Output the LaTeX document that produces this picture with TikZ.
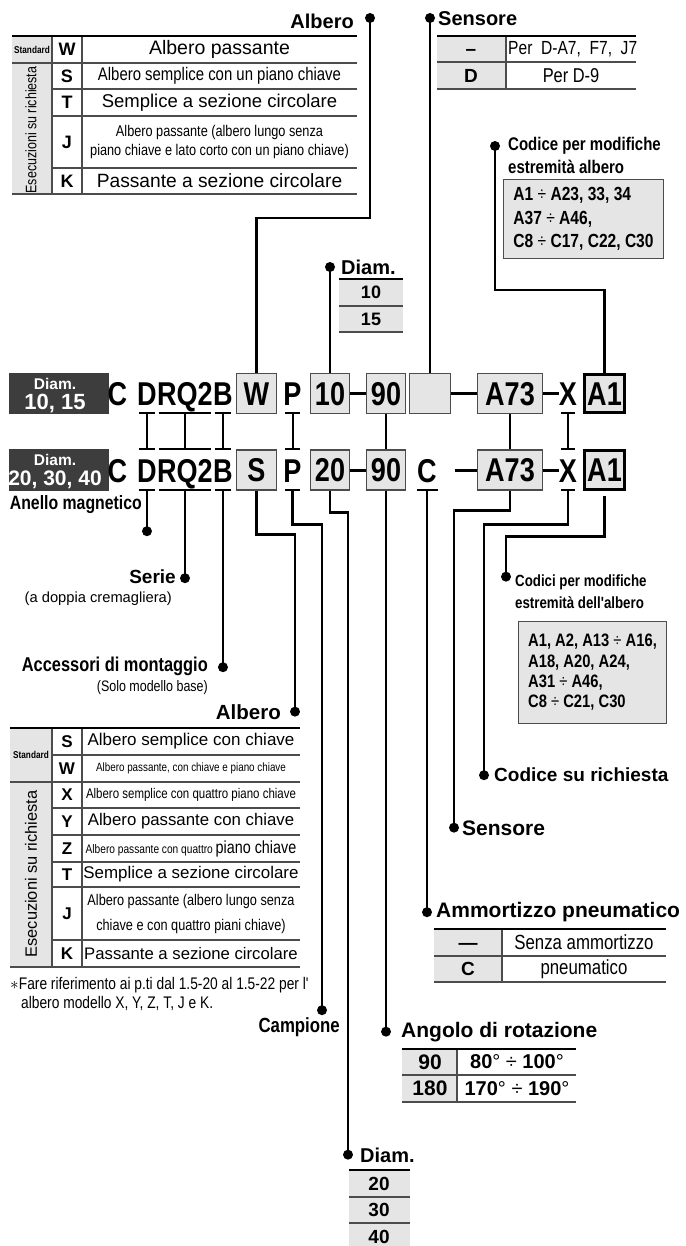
\documentclass[tikz,border=0pt]{standalone}
\usepackage{fontspec}
\setmainfont{Liberation Sans}
\newfontfamily\narrowsf{Liberation Sans}[FakeStretch=0.82]
\usetikzlibrary{positioning}

\definecolor{cellgray}{gray}{0.9}
\definecolor{darkbox}{gray}{0.24}
\definecolor{rulegray}{gray}{0.3}
\newcommand{\setfs}[1]{\fontsize{#1}{#1}\selectfont}
\newcommand{\dv}{{\mdseries ÷}}

\tikzset{
  code/.style={font=\narrowsf\bfseries\setfs{33}, inner sep=0pt, text height=33pt, text depth=8pt},
  codebox/.style={draw=rulegray, line width=1.3pt, fill=cellgray, inner sep=0pt,
    minimum height=40pt, text height=23pt, text depth=0pt, font=\narrowsf\bfseries\setfs{33}},
  endbox/.style={codebox, draw=black, line width=2.8pt},
  diambox/.style={fill=darkbox, minimum width=100pt, minimum height=41pt, inner sep=0pt},
  diamtxt/.style={text=white, font=\bfseries, inner sep=0pt},
  hyph/.style={line width=3pt},
  tie/.style={line width=2pt},
  conn/.style={line width=2.6pt},
  thickrule/.style={line width=2.6pt},
  rowline/.style={line width=1.3pt, draw=rulegray},
  head/.style={font=\bfseries, inner sep=0pt},
  nhead/.style={font=\narrowsf\bfseries, inner sep=0pt},
  ntext/.style={font=\narrowsf, inner sep=0pt},
  cell/.style={inner sep=0pt, align=center},
  codelist/.style={draw=rulegray, line width=1pt, fill=cellgray, align=left, inner sep=0pt}
}

\begin{document}
\begin{tikzpicture}[x=1pt, y=-1pt]
  \useasboundingbox (0,0) rectangle (685,1246);

  % Code line, diam. 10, 15
  \node[diambox] (dg1) at (59,393.5) {};
  \node[diamtxt] (dg1a) at (55,384) {\setfs{15.5}Diam.};
  \node[diamtxt] (dg1b) at (55,404) {\setfs{22}10, 15};
  \node[code, anchor=base] (c1) at (117.5,405) {C};
  \node[code, anchor=base west] (d1) at (137,405) {D};
  \node[code, right=0pt of d1] (rq1) {RQ2};
  \node[code, right=0pt of rq1] (b1) {B};
  \node[codebox, minimum width=40pt] (sh1) at (256.5,393.5) {W};
  \node[code, anchor=base] (p1) at (292.5,405) {P};
  \node[codebox, minimum width=39pt] (bo1) at (330,393.5) {10};
  \node[codebox, minimum width=39pt] (an1) at (386,393.5) {90};
  \node[codebox, minimum width=41pt] (sn1) at (430,393.5) {};
  \node[codebox, minimum width=65pt] (sw1) at (510,393.5) {A73};
  \node[code, anchor=base] (x1) at (568,405) {X};
  \node[endbox, minimum width=40.5pt, minimum height=38.5pt] (e1) at (604.5,393.5) {A1};
  \draw[hyph] (bo1) -- (an1);
  \draw[hyph] (sn1) -- (sw1);
  \draw[hyph] (sw1.east) -- (sw1.east -| x1.west);

  % Code line, diam. 20, 30, 40
  \node[diambox, minimum height=42pt] (dg2) at (59,470) {};
  \node[diamtxt] (dg2a) at (55,460) {\setfs{15.5}Diam.};
  \node[diamtxt] (dg2b) at (55,480) {\setfs{21}20, 30, 40};
  \node[code, anchor=base] (c2) at (117.5,482) {C};
  \node[code, anchor=base west] (d2) at (137,482) {D};
  \node[code, right=0pt of d2] (rq2) {RQ2};
  \node[code, right=0pt of rq2] (b2) {B};
  \node[codebox, minimum width=40pt] (sh2) at (256.5,470) {S};
  \node[code, anchor=base] (p2) at (292.5,482) {P};
  \node[codebox, minimum width=39pt] (bo2) at (330,470) {20};
  \node[codebox, minimum width=39pt] (an2) at (386,470) {90};
  \node[code, anchor=base] (cu2) at (427,482) {C};
  \coordinate (hy2) at (455,470);
  \node[codebox, minimum width=65pt] (sw2) at (510,470) {A73};
  \node[code, anchor=base] (x2) at (568,482) {X};
  \node[endbox, minimum width=40.5pt, minimum height=38.5pt] (e2) at (604.5,470) {A1};
  \draw[hyph] (bo2) -- (an2);
  \draw[hyph] (hy2) -- (sw2);
  \draw[hyph] (sw2.east) -- (sw2.east -| x2.west);

  % Ties between the two lines
  \foreach \n in {d,rq,b,p,x} {
    \draw[tie] ([xshift=2pt]\n1.south west) -- ([xshift=-2pt]\n1.south east);
    \draw[tie] ([xshift=2pt]\n2.north west) -- ([xshift=-2pt]\n2.north east);
    \draw[tie] ([xshift=2pt]\n2.south west) -- ([xshift=-2pt]\n2.south east);
    \draw[tie] (\n1.south) -- (\n2.north);
  }
  \draw[tie] (cu2.south west) -- ([xshift=1pt]cu2.south east);
  \draw[tie] (an1) -- (an2);
  \draw[tie] (sw1) -- (sw2);

  % Connectors, upper side
  \coordinate (albdot1) at (370,18);
  \coordinate (sendot1) at (430,18);
  \coordinate (diadot1) at (330,267);
  \coordinate (enddot1) at (495,146);
  \draw[conn] (albdot1) -- ++(0,200) -| (sh1.north);
  \draw[conn] (sendot1) -- (sn1.north);
  \draw[conn] (diadot1) -- (bo1.north);
  \draw[conn] (enddot1) -- ++(0,144) -| (e1.north);

  % Connectors, lower side
  \draw[conn] (d2.south) -- ++(0,41) coordinate (anedot);
  \draw[conn] (rq2.south) -- ++(0,88) coordinate (seriedot);
  \draw[conn] (b2.south) -- ++(0,177) coordinate (accdot);
  \draw[conn] (sh2.south) -- ++(0,44) -| ++(38.5,177) coordinate (albdot2);
  \draw[conn] (p2.south) -- ++(0,34) -| ++(29.5,486) coordinate (campdot);
  \draw[conn] (bo2.south) -- ++(0,22) -| ++(18,642) coordinate (diadot2);
  \draw[conn] (an2.south) -- ++(0,541) coordinate (angdot);
  \draw[conn] (cu2.south) -- ++(0,422) coordinate (cushdot);
  \draw[conn] (sw2.south) -- ++(0,20) -| ++(-56,317) coordinate (sensdot2);
  \draw[conn] (x2.south) -- ++(0,34) -| ++(-84,251) coordinate (reqdot);
  \draw[conn] ([yshift=-5pt]e2.south) -- ++(0,41) -| ++(-98.5,40) coordinate (enddot2);

  \foreach \c in {albdot1,sendot1,diadot1,enddot1,anedot,seriedot,accdot,albdot2,
      campdot,diadot2,angdot,cushdot,sensdot2,reqdot,enddot2}
    \fill (\c) circle (5pt);

  % Albero, upper table
  \node[head, anchor=east] (albh1) at (354,21) {\setfs{20}Albero};
  \fill[cellgray] (12,36) rectangle (52,194);
  \draw[rowline] (52,36) -- (52,194) (82,36) -- (82,194);
  \draw[rowline] (12,63) -- (357,63) (12,194) -- (357,194);
  \foreach \y in {89,116,168} \draw[rowline] (52,\y) -- (357,\y);
  \draw[thickrule] (12,36) -- (357,36);
  \node[nhead] (std1) at (32,49.5) {\setfs{10}Standard};
  \node[ntext, rotate=90] (esec1) at (31,130) {\setfs{15.2}Esecuzioni su richiesta};
  \foreach \y/\k/\f/\t in {49.5/W/{\setfs{19.5}}/{Albero passante},
      76/S/{\narrowsf\setfs{18.2}}/{Albero semplice con un piano chiave},
      102.5/T/{\setfs{18.5}}/{Semplice a sezione circolare},
      142/J/{\narrowsf\fontsize{15.5}{19.5}\selectfont}/{Albero passante (albero lungo senza\\piano chiave e lato corto con un piano chiave)},
      181/K/{\setfs{19.2}}/{Passante a sezione circolare}} {
    \node[head] (key1\k) at (67,\y) {\setfs{18}\k};
    \node[cell, font=\f] (desc1\k) at (219.5,\y) {\t};
  }

  % Sensore, upper table
  \node[head, anchor=west] (senh1) at (438,19) {\setfs{20}Sensore};
  \fill[cellgray] (437,36) rectangle (506,89);
  \draw[rowline] (506,36) -- (506,89) (437,62) -- (636,62) (437,89) -- (636,89);
  \draw[thickrule] (437,36) -- (636,36);
  \node[head, anchor=base] (senk1) at (471,55.5) {\setfs{19}–};
  \node[ntext, anchor=west] (senv1) at (508,49) {\setfs{19}Per~~D-A7,~~F7,~~J7};
  \node[head] (senk2) at (471,76) {\setfs{19}D};
  \node[ntext] (senv2) at (571,76) {\setfs{20}Per D-9};

  % Codes for the shaft end, upper
  \node[nhead, anchor=west] (endh1a) at (508,146) {\setfs{18.3}Codice per modifiche};
  \node[nhead, anchor=west] (endh1b) at (508,167) {\setfs{18.3}estremità albero};
  \node[codelist, anchor=north west, minimum width=160pt, minimum height=79pt,
    font=\narrowsf\bfseries\fontsize{19}{23.5}\selectfont]
    (endlist1) at (503,179) {A1 \dv{} A23, 33, 34\\A37 \dv{} A46,\\C8 \dv{} C17, C22, C30};

  % Diam., upper table
  \node[head, anchor=west] (diah1) at (341,267) {\setfs{20}Diam.};
  \fill[cellgray] (339,279) rectangle (403,332);
  \draw[rowline] (339,306) -- (403,306) (339,332) -- (403,332);
  \draw[thickrule] (339,279) -- (403,279);
  \foreach \y/\v in {292.5/10, 319/15}
    \node[head] (dia1v\v) at (371,\y) {\setfs{18}\v};

  % Labels, lower left
  \node[nhead, anchor=east] (anelab) at (142,505) {\setfs{19.3}Anello magnetico};
  \node[head, anchor=east] (serielab) at (176,577) {\setfs{19}Serie};
  \node[inner sep=0pt, anchor=east] (serienote) at (172,599) {\setfs{14.7}(a doppia cremagliera)};
  \node[nhead, anchor=east] (acclab) at (208,666) {\setfs{20}Accessori di montaggio};
  \node[ntext, anchor=east] (accnote) at (208,688) {\setfs{15.2}(Solo modello base)};
  \node[head, anchor=east] (albh2) at (281,712) {\setfs{20.5}Albero};
  \node[nhead, anchor=east] (camplab) at (340,1027) {\setfs{20.5}Campione};

  % Albero, lower table
  \fill[cellgray] (10,728) rectangle (52,967);
  \draw[rowline] (52,728) -- (52,967) (82,728) -- (82,967);
  \draw[rowline] (10,782) -- (300,782) (10,967) -- (300,967);
  \foreach \y in {755,808,835,862,887,940} \draw[rowline] (52,\y) -- (300,\y);
  \draw[thickrule] (10,728) -- (300,728);
  \node[nhead] (std2) at (31,755) {\setfs{10}Standard};
  \node[inner sep=0pt, rotate=90] (esec2) at (31,874) {\setfs{16.4}Esecuzioni su richiesta};
  \foreach \y/\k/\f/\t in {741.5/S/{\setfs{17}}/{Albero semplice con chiave},
      768.5/W/{\narrowsf\setfs{12}}/{Albero passante, con chiave e piano chiave},
      795/X/{\narrowsf\setfs{14}}/{Albero semplice con quattro piano chiave},
      821.5/Y/{\setfs{16.8}}/{Albero passante con chiave},
      848.5/Z/{\narrowsf\setfs{12.4}}/{Albero passante con quattro {\setfs{17.5}piano chiave}},
      874.5/T/{\setfs{16.9}}/{Semplice a sezione circolare},
      913.5/J/{\narrowsf\fontsize{15.5}{25}\selectfont}/{Albero passante (albero lungo senza\\chiave e con quattro piani chiave)},
      953.5/K/{\setfs{16.7}}/{Passante a sezione circolare}} {
    \node[head] (key2\k) at (67,\y) {\setfs{17}\k};
    \node[cell, font=\f] (desc2\k) at (191,\y) {\t};
  }
  \node[ntext, anchor=west] (note1) at (10,985) {\setfs{16.8}$\ast$Fare riferimento ai p.ti dal 1.5-20 al 1.5-22 per l'};
  \node[ntext, anchor=west] (note2) at (21,1003) {\setfs{16.8}albero modello X, Y, Z, T, J e K.};

  % Labels, lower right
  \node[nhead, anchor=west] (endh2a) at (515,582) {\setfs{16.2}Codici per modifiche};
  \node[nhead, anchor=west] (endh2b) at (515,603) {\setfs{16.2}estremità dell'albero};
  \node[codelist, anchor=north west, minimum width=148pt, minimum height=102pt,
    font=\narrowsf\bfseries\fontsize{18}{20.3}\selectfont]
    (endlist2) at (518,621) {A1, A2, A13 \dv{} A16,\\A18, A20, A24,\\A31 \dv{} A46,\\C8 \dv{} C21, C30};
  \node[head, anchor=west] (reqlab) at (494,775) {\setfs{19}Codice su richiesta};
  \node[head, anchor=west] (senslab2) at (462,828) {\setfs{21}Sensore};

  % Ammortizzo
  \node[head, anchor=west] (cushlab) at (436,912) {\setfs{21}Ammortizzo pneumatico};
  \fill[cellgray] (434,929) rectangle (502,982);
  \draw[rowline] (502,929) -- (502,982) (434,956) -- (666,956) (434,982) -- (666,982);
  \draw[thickrule] (434,929) -- (666,929);
  \node[head, anchor=base] (cushk1) at (468,949.5) {\setfs{19}—};
  \node[ntext] (cushv1) at (584,942.5) {\setfs{20.5}Senza ammortizzo};
  \node[head] (cushk2) at (468,969) {\setfs{19}C};
  \node[ntext] (cushv2) at (584,969) {\setfs{20.5}pneumatico};

  % Angolo di rotazione
  \node[head, anchor=west] (anglab) at (401,1032) {\setfs{21}Angolo di rotazione};
  \fill[cellgray] (402,1049) rectangle (457,1102);
  \draw[rowline] (457,1049) -- (457,1102) (402,1075) -- (576,1075) (402,1102) -- (576,1102);
  \draw[thickrule] (402,1049) -- (576,1049);
  \node[head] (angk1) at (430,1062) {\setfs{21}90};
  \node[head] (angv1) at (517,1062) {\setfs{20}80{\mdseries°} \dv{} 100{\mdseries°}};
  \node[head] (angk2) at (430,1088.5) {\setfs{21}180};
  \node[head] (angv2) at (517,1088.5) {\setfs{20}170{\mdseries°} \dv{} 190{\mdseries°}};

  % Diam., lower table
  \node[head, anchor=west] (dialab2) at (360,1155) {\setfs{20}Diam.};
  \fill[cellgray] (349,1170) rectangle (410,1250);
  \draw[rowline] (349,1197) -- (410,1197) (349,1223) -- (410,1223) (349,1250) -- (410,1250);
  \draw[thickrule] (349,1170) -- (410,1170);
  \foreach \y/\v in {1183.5/20, 1210/30, 1236.5/40}
    \node[head] (dia2v\v) at (379,\y) {\setfs{19}\v};

\end{tikzpicture}
\end{document}
